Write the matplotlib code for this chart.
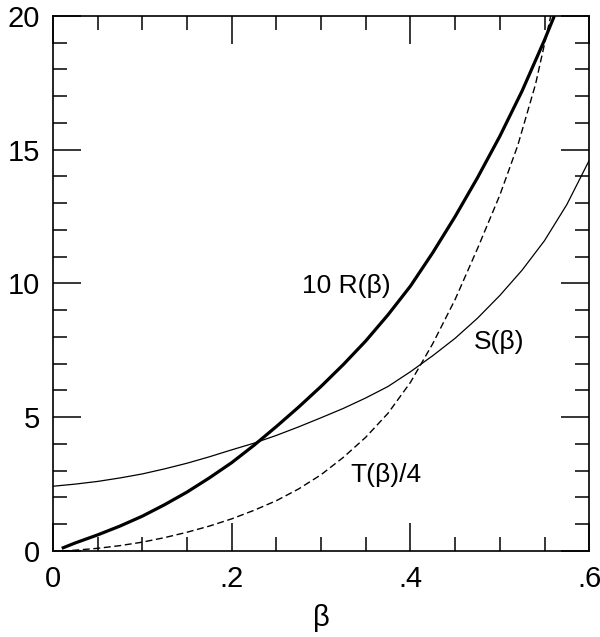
import matplotlib
matplotlib.use("Agg")
import matplotlib.pyplot as plt
from matplotlib.ticker import MultipleLocator

plt.rcParams['font.family'] = ['Liberation Sans', 'DejaVu Sans']

# 10 R(beta), thick solid
beta_r = [0.01, 0.025, 0.05, 0.075, 0.1, 0.125, 0.15, 0.175, 0.2, 0.225, 0.25,
          0.275, 0.3, 0.325, 0.35, 0.375, 0.4, 0.425, 0.45, 0.475, 0.5, 0.525,
          0.55, 0.561]
r10 = [0.1, 0.3, 0.6, 0.93, 1.3, 1.73, 2.2, 2.73, 3.3, 3.95, 4.65,
       5.38, 6.15, 6.97, 7.85, 8.83, 9.9, 11.15, 12.5, 13.95, 15.5, 17.2,
       19.1, 20.0]

# S(beta), thin solid
beta_s = [0.0, 0.025, 0.05, 0.075, 0.1, 0.125, 0.15, 0.175, 0.2, 0.225, 0.25,
          0.275, 0.3, 0.325, 0.35, 0.375, 0.4, 0.425, 0.45, 0.475, 0.5, 0.525,
          0.55, 0.575, 0.6]
s_vals = [2.42, 2.5, 2.6, 2.73, 2.88, 3.07, 3.28, 3.52, 3.78, 4.03, 4.32,
          4.64, 4.98, 5.33, 5.72, 6.15, 6.7, 7.3, 7.95, 8.7, 9.55, 10.5,
          11.6, 12.95, 14.6]

# T(beta)/4, dashed
beta_t = [0.01, 0.025, 0.05, 0.075, 0.1, 0.125, 0.15, 0.175, 0.2, 0.225, 0.25,
          0.275, 0.3, 0.325, 0.35, 0.375, 0.4, 0.425, 0.45, 0.475, 0.5, 0.52,
          0.54, 0.557]
t4 = [0.0, 0.03, 0.1, 0.2, 0.33, 0.5, 0.7, 0.93, 1.2, 1.52, 1.88,
      2.32, 2.85, 3.5, 4.25, 5.15, 6.3, 7.75, 9.4, 11.3, 13.3, 15.15,
      17.45, 20.0]

xticks = [0, 0.2, 0.4, 0.6]
xtick_labels = ["0", ".2", ".4", ".6"]
yticks = [0, 5, 10, 15, 20]
ytick_labels = ["0", "5", "10", "15", "20"]

fig = plt.figure(figsize=(6.0, 6.37), dpi=100)
ax = fig.add_axes([0.088, 0.135, 0.894, 0.84])

ax.plot(beta_r, r10, color='black', lw=2.3, solid_capstyle='butt')
ax.plot(beta_s, s_vals, color='black', lw=0.9)
ax.plot(beta_t, t4, color='black', lw=1.0, linestyle=(0, (5, 2.6)))

ax.text(0.328, 9.9, "10 R(\u03b2)", fontsize=19, ha='center', va='center')
ax.text(0.4995, 7.8, "S(\u03b2)", fontsize=19, ha='center', va='center')
ax.text(0.373, 2.84, "T(\u03b2)/4", fontsize=19, ha='center', va='center')

ax.set_xlim(0, 0.6)
ax.set_ylim(0, 20)
ax.set_xticks(xticks)
ax.set_xticklabels(xtick_labels)
ax.set_yticks(yticks)
ax.set_yticklabels(ytick_labels)
ax.xaxis.set_minor_locator(MultipleLocator(0.05))
ax.yaxis.set_minor_locator(MultipleLocator(1))

ax.tick_params(which='both', direction='in', top=True, right=True, width=1.1,
               labelsize=21)
ax.tick_params(axis='x', which='major', length=20, pad=10)
ax.tick_params(axis='y', which='major', length=20, pad=9)
ax.tick_params(which='minor', length=10)
for sp in ax.spines.values():
    sp.set_linewidth(1.2)

ax.set_xlabel("\u03b2", fontsize=21, labelpad=8)

fig.savefig("out.png", dpi=100)
